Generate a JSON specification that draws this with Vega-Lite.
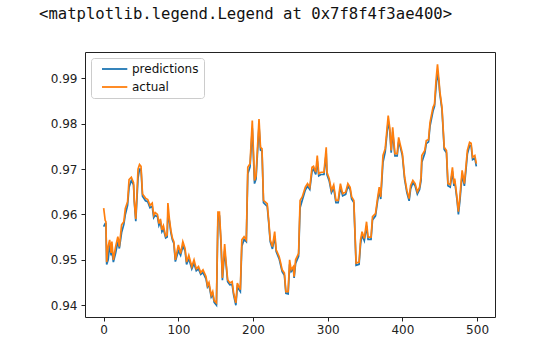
{
  "$schema": "https://vega.github.io/schema/vega-lite/v6.json",
  "autosize": {"type": "none"},
  "width": 410,
  "height": 265,
  "padding": {"left": 85, "top": 52, "right": 61, "bottom": 36},
  "title": {
    "text": "<matplotlib.legend.Legend at 0x7f8f4f3ae400>",
    "font": "DejaVu Sans Mono",
    "fontSize": 15.6,
    "fontWeight": "normal",
    "color": "#111",
    "anchor": "start",
    "frame": "group",
    "dx": -46,
    "offset": 29
  },
  "config": {
    "view": {"stroke": "#222", "strokeWidth": 1},
    "axis": {
      "domain": false,
      "grid": false,
      "tickColor": "#222",
      "tickSize": 4,
      "labelFont": "DejaVu Sans",
      "labelFontSize": 12,
      "labelColor": "#222",
      "title": null
    },
    "legend": {
      "labelFont": "DejaVu Sans",
      "labelFontSize": 12,
      "labelColor": "#111"
    }
  },
  "data": {
    "values": [
      {"t":0,"actual":0.9614,"predictions":0.9573},
      {"t":2,"actual":0.9587,"predictions":0.9580},
      {"t":3,"actual":0.9584,"predictions":0.9580},
      {"t":4,"actual":0.9495,"predictions":0.9490},
      {"t":6,"actual":0.9530,"predictions":0.9500},
      {"t":8,"actual":0.9544,"predictions":0.9535},
      {"t":10,"actual":0.9515,"predictions":0.9510},
      {"t":11,"actual":0.9540,"predictions":0.9520},
      {"t":13,"actual":0.9500,"predictions":0.9495},
      {"t":16,"actual":0.9529,"predictions":0.9515},
      {"t":19,"actual":0.9551,"predictions":0.9540},
      {"t":21,"actual":0.9529,"predictions":0.9525},
      {"t":24,"actual":0.9577,"predictions":0.9560},
      {"t":27,"actual":0.9584,"predictions":0.9578},
      {"t":29,"actual":0.9613,"predictions":0.9600},
      {"t":32,"actual":0.9628,"predictions":0.9620},
      {"t":34,"actual":0.9677,"predictions":0.9660},
      {"t":37,"actual":0.9682,"predictions":0.9675},
      {"t":40,"actual":0.9670,"predictions":0.9665},
      {"t":41,"actual":0.9630,"predictions":0.9628},
      {"t":43,"actual":0.9590,"predictions":0.9585},
      {"t":46,"actual":0.9700,"predictions":0.9680},
      {"t":48,"actual":0.9710,"predictions":0.9700},
      {"t":50,"actual":0.9706,"predictions":0.9700},
      {"t":52,"actual":0.9645,"predictions":0.9640},
      {"t":56,"actual":0.9636,"predictions":0.9630},
      {"t":59,"actual":0.9633,"predictions":0.9628},
      {"t":62,"actual":0.9620,"predictions":0.9615},
      {"t":65,"actual":0.9625,"predictions":0.9618},
      {"t":67,"actual":0.9598,"predictions":0.9593},
      {"t":69,"actual":0.9604,"predictions":0.9598},
      {"t":72,"actual":0.9600,"predictions":0.9595},
      {"t":74,"actual":0.9580,"predictions":0.9576},
      {"t":76,"actual":0.9590,"predictions":0.9584},
      {"t":78,"actual":0.9566,"predictions":0.9562},
      {"t":80,"actual":0.9575,"predictions":0.9568},
      {"t":83,"actual":0.9552,"predictions":0.9548},
      {"t":85,"actual":0.9555,"predictions":0.9550},
      {"t":86,"actual":0.9625,"predictions":0.9600},
      {"t":88,"actual":0.9590,"predictions":0.9585},
      {"t":90,"actual":0.9565,"predictions":0.9560},
      {"t":92,"actual":0.9548,"predictions":0.9544},
      {"t":94,"actual":0.9540,"predictions":0.9536},
      {"t":96,"actual":0.9500,"predictions":0.9496},
      {"t":100,"actual":0.9533,"predictions":0.9520},
      {"t":103,"actual":0.9514,"predictions":0.9510},
      {"t":106,"actual":0.9540,"predictions":0.9530},
      {"t":109,"actual":0.9525,"predictions":0.9520},
      {"t":111,"actual":0.9495,"predictions":0.9490},
      {"t":114,"actual":0.9510,"predictions":0.9503},
      {"t":118,"actual":0.9485,"predictions":0.9480},
      {"t":121,"actual":0.9500,"predictions":0.9492},
      {"t":124,"actual":0.9480,"predictions":0.9476},
      {"t":127,"actual":0.9485,"predictions":0.9480},
      {"t":130,"actual":0.9472,"predictions":0.9468},
      {"t":133,"actual":0.9478,"predictions":0.9472},
      {"t":137,"actual":0.9463,"predictions":0.9458},
      {"t":139,"actual":0.9443,"predictions":0.9440},
      {"t":141,"actual":0.9450,"predictions":0.9445},
      {"t":144,"actual":0.9422,"predictions":0.9418},
      {"t":146,"actual":0.9430,"predictions":0.9424},
      {"t":148,"actual":0.9410,"predictions":0.9406},
      {"t":151,"actual":0.9405,"predictions":0.9400},
      {"t":153,"actual":0.9605,"predictions":0.9590},
      {"t":155,"actual":0.9605,"predictions":0.9598},
      {"t":157,"actual":0.9545,"predictions":0.9540},
      {"t":159,"actual":0.9460,"predictions":0.9455},
      {"t":162,"actual":0.9535,"predictions":0.9520},
      {"t":164,"actual":0.9493,"predictions":0.9488},
      {"t":166,"actual":0.9456,"predictions":0.9452},
      {"t":169,"actual":0.9449,"predictions":0.9445},
      {"t":172,"actual":0.9452,"predictions":0.9446},
      {"t":174,"actual":0.9427,"predictions":0.9423},
      {"t":177,"actual":0.9405,"predictions":0.9400},
      {"t":179,"actual":0.9449,"predictions":0.9440},
      {"t":183,"actual":0.9434,"predictions":0.9430},
      {"t":185,"actual":0.9544,"predictions":0.9530},
      {"t":188,"actual":0.9551,"predictions":0.9545},
      {"t":191,"actual":0.9544,"predictions":0.9540},
      {"t":193,"actual":0.9704,"predictions":0.9690},
      {"t":196,"actual":0.9712,"predictions":0.9705},
      {"t":199,"actual":0.9807,"predictions":0.9790},
      {"t":202,"actual":0.9675,"predictions":0.9668},
      {"t":204,"actual":0.9685,"predictions":0.9678},
      {"t":208,"actual":0.9810,"predictions":0.9795},
      {"t":210,"actual":0.9748,"predictions":0.9742},
      {"t":212,"actual":0.9745,"predictions":0.9740},
      {"t":214,"actual":0.9631,"predictions":0.9626},
      {"t":219,"actual":0.9624,"predictions":0.9618},
      {"t":221,"actual":0.9587,"predictions":0.9582},
      {"t":223,"actual":0.9544,"predictions":0.9540},
      {"t":226,"actual":0.9529,"predictions":0.9524},
      {"t":229,"actual":0.9562,"predictions":0.9552},
      {"t":231,"actual":0.9522,"predictions":0.9518},
      {"t":235,"actual":0.9507,"predictions":0.9502},
      {"t":237,"actual":0.9493,"predictions":0.9488},
      {"t":239,"actual":0.9478,"predictions":0.9474},
      {"t":242,"actual":0.9471,"predictions":0.9466},
      {"t":244,"actual":0.9430,"predictions":0.9426},
      {"t":247,"actual":0.9430,"predictions":0.9425},
      {"t":249,"actual":0.9500,"predictions":0.9490},
      {"t":251,"actual":0.9478,"predictions":0.9474},
      {"t":254,"actual":0.9485,"predictions":0.9480},
      {"t":255,"actual":0.9463,"predictions":0.9460},
      {"t":257,"actual":0.9500,"predictions":0.9492},
      {"t":261,"actual":0.9514,"predictions":0.9508},
      {"t":263,"actual":0.9631,"predictions":0.9615},
      {"t":266,"actual":0.9639,"predictions":0.9632},
      {"t":270,"actual":0.9660,"predictions":0.9654},
      {"t":273,"actual":0.9668,"predictions":0.9662},
      {"t":276,"actual":0.9660,"predictions":0.9655},
      {"t":279,"actual":0.9704,"predictions":0.9695},
      {"t":281,"actual":0.9706,"predictions":0.9700},
      {"t":284,"actual":0.9693,"predictions":0.9688},
      {"t":286,"actual":0.9730,"predictions":0.9718},
      {"t":288,"actual":0.9690,"predictions":0.9685},
      {"t":291,"actual":0.9693,"predictions":0.9688},
      {"t":295,"actual":0.9693,"predictions":0.9688},
      {"t":298,"actual":0.9748,"predictions":0.9735},
      {"t":299,"actual":0.9693,"predictions":0.9688},
      {"t":302,"actual":0.9679,"predictions":0.9674},
      {"t":305,"actual":0.9653,"predictions":0.9648},
      {"t":308,"actual":0.9665,"predictions":0.9658},
      {"t":311,"actual":0.9631,"predictions":0.9626},
      {"t":314,"actual":0.9631,"predictions":0.9626},
      {"t":317,"actual":0.9668,"predictions":0.9660},
      {"t":320,"actual":0.9646,"predictions":0.9641},
      {"t":324,"actual":0.9649,"predictions":0.9644},
      {"t":327,"actual":0.9668,"predictions":0.9662},
      {"t":330,"actual":0.9660,"predictions":0.9655},
      {"t":332,"actual":0.9639,"predictions":0.9634},
      {"t":335,"actual":0.9631,"predictions":0.9626},
      {"t":336,"actual":0.9584,"predictions":0.9580},
      {"t":338,"actual":0.9493,"predictions":0.9488},
      {"t":342,"actual":0.9495,"predictions":0.9490},
      {"t":344,"actual":0.9544,"predictions":0.9535},
      {"t":346,"actual":0.9562,"predictions":0.9555},
      {"t":349,"actual":0.9547,"predictions":0.9542},
      {"t":352,"actual":0.9584,"predictions":0.9575},
      {"t":354,"actual":0.9550,"predictions":0.9545},
      {"t":358,"actual":0.9550,"predictions":0.9545},
      {"t":360,"actual":0.9595,"predictions":0.9588},
      {"t":364,"actual":0.9602,"predictions":0.9597},
      {"t":367,"actual":0.9639,"predictions":0.9632},
      {"t":369,"actual":0.9660,"predictions":0.9652},
      {"t":371,"actual":0.9639,"predictions":0.9634},
      {"t":374,"actual":0.9730,"predictions":0.9715},
      {"t":377,"actual":0.9745,"predictions":0.9738},
      {"t":381,"actual":0.9818,"predictions":0.9805},
      {"t":383,"actual":0.9792,"predictions":0.9786},
      {"t":385,"actual":0.9741,"predictions":0.9736},
      {"t":387,"actual":0.9792,"predictions":0.9782},
      {"t":390,"actual":0.9734,"predictions":0.9729},
      {"t":393,"actual":0.9734,"predictions":0.9729},
      {"t":395,"actual":0.9770,"predictions":0.9760},
      {"t":397,"actual":0.9755,"predictions":0.9750},
      {"t":400,"actual":0.9734,"predictions":0.9729},
      {"t":403,"actual":0.9682,"predictions":0.9677},
      {"t":406,"actual":0.9653,"predictions":0.9648},
      {"t":409,"actual":0.9635,"predictions":0.9630},
      {"t":411,"actual":0.9664,"predictions":0.9656},
      {"t":414,"actual":0.9675,"predictions":0.9670},
      {"t":417,"actual":0.9668,"predictions":0.9663},
      {"t":420,"actual":0.9650,"predictions":0.9645},
      {"t":423,"actual":0.9660,"predictions":0.9655},
      {"t":425,"actual":0.9682,"predictions":0.9675},
      {"t":426,"actual":0.9730,"predictions":0.9715},
      {"t":430,"actual":0.9741,"predictions":0.9735},
      {"t":432,"actual":0.9763,"predictions":0.9756},
      {"t":435,"actual":0.9765,"predictions":0.9760},
      {"t":437,"actual":0.9803,"predictions":0.9795},
      {"t":441,"actual":0.9836,"predictions":0.9828},
      {"t":443,"actual":0.9843,"predictions":0.9838},
      {"t":445,"actual":0.9895,"predictions":0.9880},
      {"t":447,"actual":0.9931,"predictions":0.9915},
      {"t":449,"actual":0.9895,"predictions":0.9890},
      {"t":450,"actual":0.9873,"predictions":0.9868},
      {"t":453,"actual":0.9836,"predictions":0.9831},
      {"t":456,"actual":0.9748,"predictions":0.9743},
      {"t":459,"actual":0.9741,"predictions":0.9736},
      {"t":461,"actual":0.9668,"predictions":0.9663},
      {"t":464,"actual":0.9666,"predictions":0.9660},
      {"t":467,"actual":0.9704,"predictions":0.9695},
      {"t":469,"actual":0.9668,"predictions":0.9663},
      {"t":470,"actual":0.9679,"predictions":0.9674},
      {"t":473,"actual":0.9639,"predictions":0.9634},
      {"t":475,"actual":0.9606,"predictions":0.9600},
      {"t":477,"actual":0.9639,"predictions":0.9630},
      {"t":480,"actual":0.9697,"predictions":0.9688},
      {"t":483,"actual":0.9668,"predictions":0.9663},
      {"t":485,"actual":0.9704,"predictions":0.9696},
      {"t":487,"actual":0.9741,"predictions":0.9733},
      {"t":490,"actual":0.9759,"predictions":0.9752},
      {"t":492,"actual":0.9757,"predictions":0.9752},
      {"t":494,"actual":0.9726,"predictions":0.9721},
      {"t":497,"actual":0.9730,"predictions":0.9724},
      {"t":499,"actual":0.9712,"predictions":0.9706}
    ]
  },
  "encoding": {
    "x": {
      "field": "t",
      "type": "quantitative",
      "scale": {"domain": [-25, 524], "nice": false, "zero": false},
      "axis": {"values": [0, 100, 200, 300, 400, 500], "labelPadding": 3}
    }
  },
  "layer": [
    {
      "mark": {"type": "line", "strokeWidth": 1.7, "clip": true},
      "encoding": {
        "y": {
          "field": "predictions",
          "type": "quantitative",
          "scale": {"domain": [0.9374, 0.9958], "nice": false, "zero": false},
          "axis": {"values": [0.94, 0.95, 0.96, 0.97, 0.98, 0.99], "format": ".2f", "labelPadding": 4}
        },
        "color": {
          "datum": "predictions",
          "type": "nominal",
          "scale": {"domain": ["predictions", "actual"], "range": ["#1f77b4", "#ff7f0e"]},
          "legend": {
            "title": null,
            "orient": "top-left",
            "offset": 6,
            "symbolType": "M0,0H8",
            "symbolSize": 40,
            "symbolStrokeWidth": 1.8,
            "labelOffset": 24,
            "rowPadding": 6,
            "padding": 5,
            "fillColor": "rgba(255,255,255,0.8)",
            "strokeColor": "#cccccc",
            "cornerRadius": 3
          }
        }
      }
    },
    {
      "mark": {"type": "line", "strokeWidth": 1.7, "clip": true},
      "encoding": {
        "y": {"field": "actual", "type": "quantitative"},
        "color": {"datum": "actual", "type": "nominal"}
      }
    }
  ]
}
